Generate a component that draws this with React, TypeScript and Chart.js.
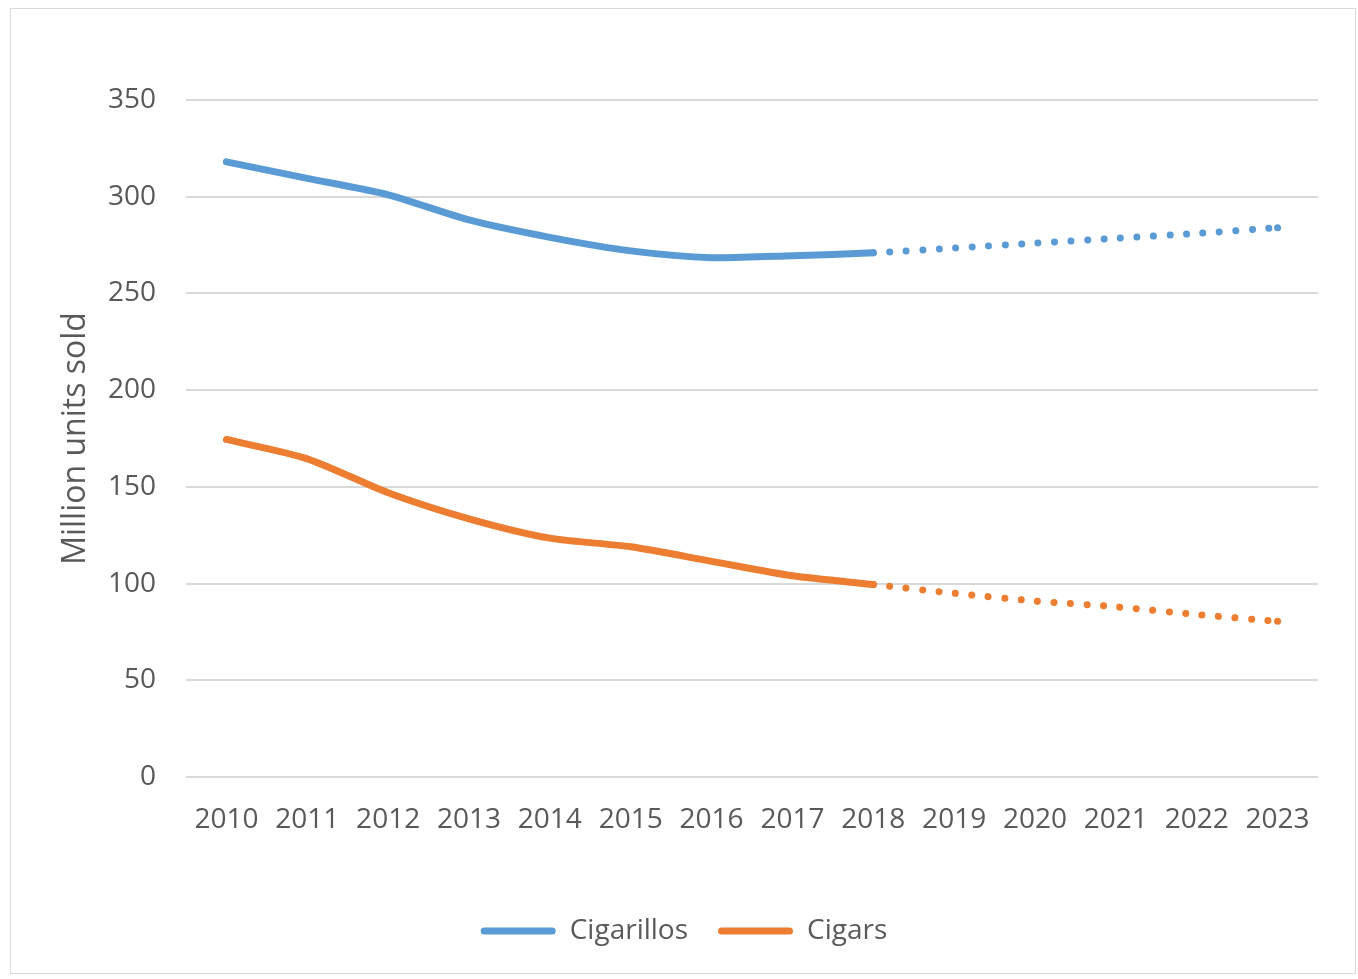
import React, { useEffect, useRef } from "react";
import { Chart, registerables } from "chart.js";

Chart.register(...registerables);

const years = ["2010", "2011", "2012", "2013", "2014", "2015", "2016", "2017", "2018", "2019", "2020", "2021", "2022", "2023"];
const cigarillos = [318, 309.5, 301, 288, 279, 272, 268.5, 269.5, 271, 273.5, 276, 278.5, 281, 284];
const cigars = [174.5, 164.5, 147, 133.5, 123.5, 119, 111.5, 104, 99.5, 95, 91, 88, 84, 80.5];
const forecastStartIndex = 8;
const yTicks = [0, 50, 100, 150, 200, 250, 300, 350];

const BLUE = "#5B9BD5";
const ORANGE = "#ED7D31";
const TEXT = "#595959";
const FONT = "'Open Sans', 'Noto Sans', sans-serif";

export default function App() {
  const ref = useRef<HTMLCanvasElement | null>(null);

  useEffect(() => {
    const canvas = ref.current;
    if (!canvas) return;
    const dotted = (ctx: any) => (ctx.p0DataIndex >= forecastStartIndex ? [0.01, 16.5] : []);
    const lastIdx = years.length - 1;
    const endRadius = (ctx: any) => (ctx.dataIndex === lastIdx ? 3.5 : 0);
    const mk = (label: string, data: number[], color: string) => ({
      label,
      data,
      borderColor: color,
      backgroundColor: color,
      borderWidth: 7,
      borderCapStyle: "round",
      borderJoinStyle: "round",
      pointRadius: endRadius,
      pointBorderWidth: 0,
      pointBackgroundColor: color,
      pointHoverRadius: 0,
      tension: 0.25,
      fill: false,
      segment: { borderDash: dotted },
    });
    const chart = new Chart(canvas, {
      type: "line",
      data: {
        labels: years,
        datasets: [mk("Cigarillos", cigarillos, BLUE), mk("Cigars", cigars, ORANGE)] as any,
      },
      options: {
        responsive: false,
        animation: false,
        layout: { padding: { left: 50, right: 40, top: 100, bottom: 24 } },
        plugins: {
          tooltip: { enabled: false },
          legend: {
            position: "bottom",
            labels: {
              boxWidth: 75,
              boxHeight: 7,
              padding: 30,
              color: TEXT,
              font: { family: FONT, size: 28 },
              generateLabels: (c: any) =>
                Chart.defaults.plugins.legend.labels.generateLabels(c).map((l: any) => ({
                  ...l,
                  lineWidth: 0,
                  lineDash: [],
                  borderRadius: 3.5,
                })),
            },
          },
        },
        scales: {
          x: {
            offset: true,
            grid: { display: false, drawTicks: false },
            border: { display: false },
            ticks: { color: TEXT, font: { family: FONT, size: 28 }, padding: 26, maxRotation: 0, autoSkip: false },
            afterFit: (s: any) => {
              s.height = 110;
            },
          },
          y: {
            min: 0,
            max: 350,
            afterBuildTicks: (s: any) => {
              s.ticks = yTicks.map((v) => ({ value: v }));
            },
            grid: { color: "#d9d9d9", lineWidth: 2, drawTicks: false },
            border: { display: false },
            ticks: { color: TEXT, font: { family: FONT, size: 28 }, padding: 30 },
            title: {
              display: true,
              text: "Million units sold",
              color: TEXT,
              font: { family: FONT, size: 32 },
              padding: { top: 7, bottom: 0 },
            },
            afterFit: (s: any) => {
              s.width = 136;
            },
          },
        },
      },
    });
    return () => chart.destroy();
  }, []);

  return (
    <div style={{ position: "fixed", left: 0, top: 0, width: 1358, height: 979, background: "#fff" }}>
      <div
        style={{
          position: "absolute",
          left: 10,
          top: 8,
          width: 1346,
          height: 966,
          border: "1px solid #d9d9d9",
          boxSizing: "border-box",
        }}
      />
      <canvas
        ref={ref}
        width={1358}
        height={979}
        style={{ position: "absolute", left: 0, top: 0, width: 1358, height: 979 }}
      />
    </div>
  );
}
